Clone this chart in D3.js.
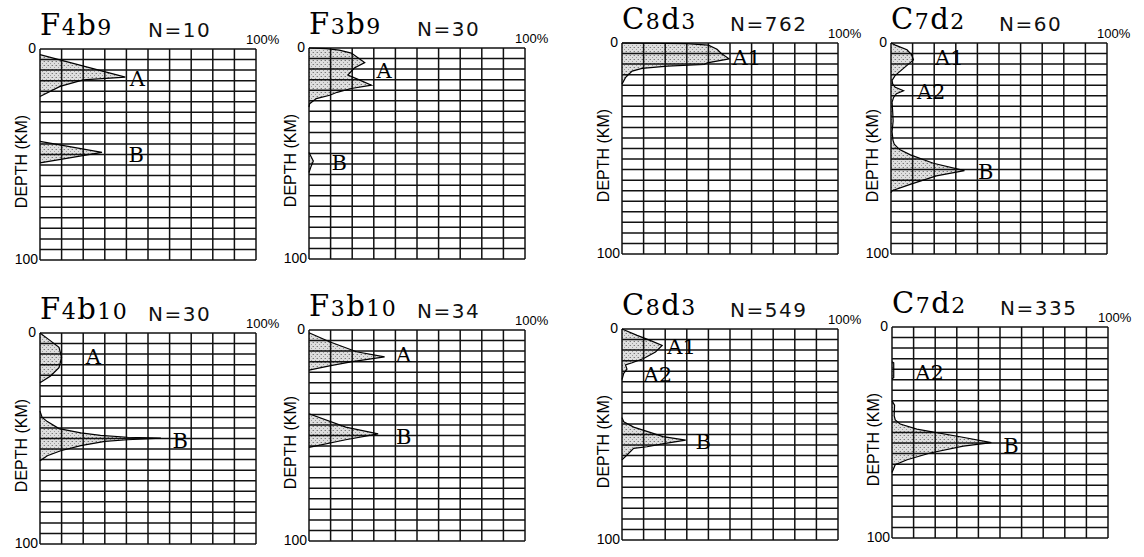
<!DOCTYPE html>
<html><head><meta charset="utf-8">
<script src="https://cdn.jsdelivr.net/npm/d3@7"></script>
<style>html,body{margin:0;padding:0;background:#fff;} svg{display:block}</style>
</head><body>
<script>
// ---------- DATA ----------
const panelTitles = ["F4b9", "F3b9", "C8d3", "C7d2", "F4b10", "F3b10", "C8d3", "C7d2"];
const panelN = [10, 30, 762, 60, 30, 34, 549, 335];
const depthTickLabels = ["0", "100"];
const pctTickLabel = "100%";
const axisTitle = "DEPTH (KM)";

// profiles: segments of [depth km, percent]
const profF4b9 = [
  [[2.7,0],[13.3,39.5],[14.6,20],[17.7,9.3],[22.5,0]],
  [[43.8,0],[49,28.7],[54,0]]
];
const profF3b9 = [
  [[0,0],[0.3,8],[1,14],[2.4,19.6],[4.5,22.5],[6.9,25.8],[9.5,21],[12.8,18],[15,23],[17.6,28.9],[19.2,19.6],[21,13],[22.4,9.6],[24,3.4],[26.4,0.3],[28,0]],
  [[49.5,0],[51.5,1],[53.6,2],[56,1],[59,0]]
];
const profC8d3a = [
  [[0,0],[0.3,30],[1,40],[3,44],[5,46],[7.5,49.6],[9.4,39.5],[10.2,38],[11,21],[12,9.3],[13.3,4.7],[16.4,1.6],[19.5,0]]
];
const profC7d2a = [
  [[0,0],[1,2],[3.2,7.4],[5.5,9.5],[8,10.4],[11.3,6.6],[15.3,2],[17.7,0.5],[19.5,0.8],[21,2],[22.6,5.8],[24,2.5],[25.8,1.2],[28,0.5],[33,0.8],[37,1],[42,0.5],[46,0.9],[48,1.5],[50.5,4],[53,9],[57,19.6],[60.5,34],[63,21],[67,8.9],[70,0.5],[71,0]]
];
const profF4b10 = [
  [[0,0],[3.5,4.6],[6.8,8.8],[11.6,10],[16.4,8.8],[20.4,4.9],[23.6,0]],
  [[37,0],[40,1],[42,3.4],[45.3,8.8],[47.3,18.9],[48.5,28],[49.4,40.5],[49.8,56],[50.6,40.5],[51.4,30],[53.4,18.9],[55.8,9.6],[58.2,3.4],[60.6,0]]
];
const profF3b10 = [
  [[1.3,0],[5.6,9.5],[10.3,22],[12.7,35],[15,20],[17,9.5],[19,0]],
  [[39.7,0],[46,17],[49.2,32],[52,17],[55.6,0]]
];
const profC8d3b = [
  [[0,0],[3,7],[5.4,13],[7.8,18.6],[10.9,15.5],[14,10],[16,4.7],[17,1.6],[19,2.3],[21,0.8],[24,0]],
  [[42,0],[44,0.8],[46.5,5.4],[49,13],[51,19],[52.7,29.5],[54.3,19.4],[55.8,11.6],[56.6,5.4],[59.7,2.3],[62,0]]
];
const profC7d2b = [
  [[16.5,0],[17,0.8],[24,0.8],[24.5,0]],
  [[35,0],[37,1.2],[42,1],[44,1.5],[46,3.8],[48.4,11.5],[52,31.5],[54.8,46],[56.5,33],[59.7,17.7],[62.9,7],[65.3,1.5],[69,0]]
];
const panelProfiles = [profF4b9, profF3b9, profC8d3a, profC7d2a, profF4b10, profF3b10, profC8d3b, profC7d2b];

// peak labels: [text, depth, percent(left edge)]
const labF4b9 = [["A",13.8,41.5],["B",50.2,41]];
const labF3b9 = [["A",10.7,31.2],["B",54,10.4]];
const labC8d3a = [["A1",6.8,51.2]];
const labC7d2a = [["A1",6.8,20.4],["A2",22.9,12],["B",61,40.3]];
const labF4b10 = [["A",11.3,21.2],["B",51,61.4]];
const labF3b10 = [["A",11.4,40.3],["B",50.5,40.3]];
const labC8d3b = [["A1",8.2,21],["A2",21.7,10],["B",53.5,34]];
const labC7d2b = [["A2",21.5,10.8],["B",56,51.5]];
const panelLabels = [labF4b9, labF3b9, labC8d3a, labC7d2a, labF4b10, labF3b10, labC8d3b, labC7d2b];

// ---------- LAYOUT ----------
const layout = [
  {x:40,y:49},{x:309,y:48},{x:622,y:43},{x:891,y:43},
  {x:40,y:333},{x:309,y:330},{x:622,y:329},{x:892,y:327}
];
const W = 216, H = 211;

const svg = d3.select("body").append("svg").attr("width",1144).attr("height",557);
const defs = svg.append("defs");
const pat = defs.append("pattern").attr("id","stip").attr("width",4).attr("height",4).attr("patternUnits","userSpaceOnUse");
pat.append("rect").attr("width",4).attr("height",4).attr("fill","#dedede");
pat.append("rect").attr("x",0).attr("y",0).attr("width",1).attr("height",1).attr("fill","#7a7a7a");
pat.append("rect").attr("x",2).attr("y",2).attr("width",1).attr("height",1).attr("fill","#9a9a9a");
pat.append("rect").attr("x",3).attr("y",0).attr("width",1).attr("height",1).attr("fill","#b8b8b8");

panelTitles.forEach((title, i) => {
  const L = layout[i];
  const g = svg.append("g").attr("transform", `translate(${L.x},${L.y})`);
  const x = d3.scaleLinear().domain([0,100]).range([0,W]);
  const y = d3.scaleLinear().domain([0,100]).range([0,H]);

  const area = d3.area().y(d=>y(d[0])).x0(x(0)).x1(d=>x(d[1]));
  panelProfiles[i].forEach(seg => {
    g.append("path").attr("d", area(seg)).attr("fill","url(#stip)").attr("stroke","none");
  });

  g.selectAll(".vl").data(d3.range(0,101,10)).enter().append("line")
    .attr("x1",d=>x(d)).attr("x2",d=>x(d)).attr("y1",0).attr("y2",H)
    .attr("stroke","#111").attr("stroke-width",1.5);
  g.selectAll(".hl").data(d3.range(0,101,5)).enter().append("line")
    .attr("y1",d=>y(d)).attr("y2",d=>y(d)).attr("x1",0).attr("x2",W)
    .attr("stroke","#111").attr("stroke-width",1.5);

  const line = d3.line().y(d=>y(d[0])).x(d=>x(d[1]));
  panelProfiles[i].forEach(seg => {
    g.append("path").attr("d", line(seg)).attr("fill","none").attr("stroke","#000").attr("stroke-width",1.2);
  });

  panelLabels[i].forEach(l => {
    g.append("text").attr("x", x(l[2])).attr("y", y(l[1])).attr("dy","0.36em")
      .attr("font-family","DejaVu Serif").attr("font-size",21).attr("fill","#000").text(l[0]);
  });

  g.append("text").attr("x",-4).attr("y",4).attr("text-anchor","end")
    .attr("font-family","Liberation Sans").attr("font-size",14).text(depthTickLabels[0]);
  g.append("text").attr("x",-2).attr("y",H+4).attr("text-anchor","end")
    .attr("font-family","Liberation Sans").attr("font-size",14).text(depthTickLabels[1]);
  g.append("text").attr("x",W-10).attr("y",-5)
    .attr("font-family","Liberation Sans").attr("font-size",13).text(pctTickLabel);

  g.append("text").attr("transform",`translate(-13,${H/2+7}) rotate(-90)`).attr("text-anchor","middle")
    .attr("font-family","Liberation Sans").attr("font-size",16).text(axisTitle);

  const t = g.append("text").attr("x",0).attr("y",-14).attr("font-family","DejaVu Serif").attr("letter-spacing",1.5);
  title.split("").forEach(ch => {
    t.append("tspan").attr("font-size", /\d/.test(ch) ? 22 : 29).text(ch);
  });
  const tw = t.node().getComputedTextLength();
  g.append("text").attr("x", Math.max(108, tw + 8)).attr("y",-12)
    .attr("font-family","DejaVu Sans").attr("font-size",20).attr("letter-spacing",1.5)
    .attr("fill","#111").text("N=" + panelN[i]);
});
</script>
</body></html>
